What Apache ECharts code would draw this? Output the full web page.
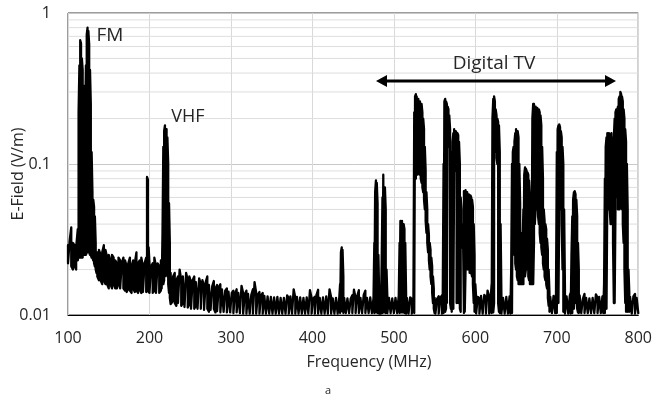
<!DOCTYPE html>
<html>
<head>
<meta charset="utf-8">
<script src="https://cdn.jsdelivr.net/npm/echarts@6/dist/echarts.min.js"></script>
<style>
html,body{margin:0;padding:0;background:#fff;}
#chart{width:655px;height:398px;}
</style>
</head>
<body>
<div id="chart"></div>
<script>
// x-axis tick labels (MHz) and y-axis tick labels (V/m)
const xTicks = [100, 200, 300, 400, 500, 600, 700, 800];
const yTicks = [0.01, 0.1, 1];
const minorGridValues = [0.02,0.03,0.04,0.05,0.06,0.07,0.08,0.09,0.2,0.3,0.4,0.5,0.6,0.7,0.8,0.9];

// Each row: [frequency MHz, max E-field over sweeps, min E-field over sweeps] (V/m)
const fmBand = [
[100,.029,.022],[102,.031,.022],[104,.038,.021],[106,.030,.020],[108,.029,.021],[110,.028,.020],[112,.037,.023],
[113,.22,.025],[114,.45,.025],[115,.66,.024],[116,.63,.024],[117,.50,.024],[118,.42,.024],[119,.33,.024],
[120,.22,.025],[121,.20,.025],[122,.45,.025],[123,.72,.026],[124,.80,.026],[125,.76,.026],[126,.62,.026],
[127,.42,.025],[128,.25,.025],[129,.12,.024],[130,.065,.024],[131,.058,.023],[132,.052,.022],[133,.045,.021],
[134,.030,.020],[135,.024,.019]
];
const floorAfterFM = [
[136,.026,.018],[138,.027,.017],[140,.025,.017],[142,.026,.016],[144,.029,.017],[146,.027,.016],[148,.024,.016],
[150,.025,.015],[152,.023,.016],[154,.025,.015],[156,.024,.016],[158,.023,.015],[160,.022,.015],[162,.024,.016],
[164,.023,.015],[166,.022,.0148],[168,.024,.015],[170,.023,.0145],[172,.021,.0142],[174,.022,.015],[176,.024,.0145],
[178,.021,.014],[180,.023,.015],[182,.022,.0142],[184,.026,.0145],[186,.022,.014],[188,.023,.0148],[190,.024,.014],
[192,.021,.0142],[194,.022,.014],[196,.024,.0142],[197,.082,.015],[198,.079,.015],[199,.028,.0142],[200,.022,.014],
[202,.021,.0142],[204,.022,.014],[206,.024,.0145],[208,.021,.014],[210,.022,.0142],[212,.021,.014],[214,.023,.0145]
];
const vhfBand = [
[215,.022,.015],[216,.035,.015],[217,.13,.016],[218,.165,.017],[219,.18,.018],[220,.155,.02],[221,.17,.02],
[222,.15,.018],[223,.10,.016],[224,.055,.014],[225,.03,.013],[226,.019,.0118]
];
const floorMid = [
[227,.019,.012],[229,.018,.0125],[231,.019,.012],[233,.017,.0115],[235,.018,.012],[237,.020,.0118],[239,.017,.0115],
[241,.018,.012],[243,.0175,.0113],[245,.019,.0115],[247,.017,.0112],[249,.018,.0118],[251,.0165,.011],[253,.017,.0112],
[255,.018,.011],[257,.0165,.0115],[259,.017,.011],[261,.0175,.0108],[263,.016,.011],[265,.017,.0112],[267,.0155,.0108],
[269,.0165,.0106],[271,.018,.011],[273,.0158,.0105],[275,.016,.0108],[277,.0155,.0105],[279,.0168,.011],[281,.015,.0104],
[283,.0158,.0106],[285,.0152,.0105],[287,.016,.0104],[289,.0148,.0103],[291,.0152,.0105],[293,.0145,.0103],[295,.015,.0104],
[297,.0143,.0102],[299,.0147,.0104],[301,.014,.0102],[303,.0145,.0103],[305,.0138,.0102],[307,.0148,.0104],[309,.014,.0102],
[311,.0143,.0103],[313,.0156,.0104],[315,.014,.0102],[317,.0137,.0103],[319,.0145,.0102],[321,.0138,.0104],[323,.0142,.0102],
[325,.0136,.0103],[327,.0148,.0102],[329,.0165,.0104],[331,.014,.0102],[333,.0136,.0103],[335,.0142,.0102],[337,.0135,.0104],
[339,.014,.0102],[341,.0134,.0103],[343,.0138,.0102],[345,.0133,.0103],[347,.0137,.0102],[349,.0132,.0104],[351,.0136,.0102],
[353,.0131,.0103],[355,.0135,.0102],[357,.0132,.0103],[359,.0134,.0102],[361,.013,.0103],[363,.0133,.0102],[365,.013,.0103],
[367,.0132,.0102],[369,.0135,.0103],[371,.0129,.0102],[373,.0133,.0103],[375,.0131,.0102],[377,.0148,.0104],[379,.013,.0102],
[381,.0132,.0103],[383,.0129,.0102],[385,.0131,.0103],[387,.0128,.0102],[389,.013,.0103],[391,.0127,.0102],[393,.0131,.0103],
[395,.0135,.0102],[397,.0146,.0103],[399,.013,.0102],[401,.0128,.0103],[403,.0132,.0102],[405,.0136,.0103],[407,.0147,.0102],
[409,.013,.0103],[411,.0128,.0102],[413,.0131,.0103],[415,.0129,.0102],[417,.0133,.0103],[419,.013,.0102],[421,.0148,.0103],
[423,.0131,.0102],[425,.0129,.0103],[427,.0132,.0102],[429,.013,.0103],[431,.0128,.0102],[433,.0131,.0103],[434,.016,.0103],
[435,.026,.0105],[436,.028,.0106],[437,.027,.0105],[438,.018,.0103],[439,.013,.0102],[441,.0132,.0103],[443,.0129,.0102],
[445,.0131,.0103],[447,.0128,.0102],[449,.0135,.0103],[451,.0147,.0102],[453,.013,.0103],[455,.0133,.0102],[457,.0146,.0103],
[459,.013,.0102],[461,.0132,.0103],[463,.0136,.0102],[465,.0145,.0103],[467,.013,.0102],[469,.0132,.0103],[471,.0131,.0102],
[473,.0134,.0103],[475,.013,.0102]
];
const tvChannelsLow = [
[476,.03,.0103],[477,.065,.0103],[478,.078,.0104],[479,.075,.0104],[480,.055,.0103],[481,.025,.0103],[482,.0132,.0102],
[483,.013,.0103],[484,.0135,.0102],[485,.022,.0103],[486,.06,.0103],[487,.085,.0104],[488,.083,.0104],[489,.07,.0103],
[490,.05,.0103],[491,.02,.0102],[492,.0131,.0103],[494,.013,.0102],[496,.0133,.0103],[498,.0129,.0102],[500,.0131,.0103],
[502,.013,.0102],[504,.0132,.0103],[506,.0135,.0102],[507,.03,.0103],[508,.042,.0103],[509,.043,.0104],[510,.042,.0104],
[511,.041,.0104],[512,.040,.0104],[513,.037,.0103],[514,.030,.0103],[515,.014,.0102],[516,.013,.0103],[518,.0128,.0102],
[520,.0131,.0103],[522,.0127,.0102],[524,.0132,.0103]
];
const tvChannel530 = [
[525,.22,.0103],[526,.28,.0103],[527,.29,.08],[528,.28,.08],[529,.28,.085],[530,.27,.09],[531,.27,.09],[532,.26,.085],
[533,.26,.08],[534,.25,.075],[535,.22,.07],[536,.20,.065],[537,.17,.058],[538,.13,.05],[539,.09,.042],[540,.065,.035],
[541,.05,.03],[542,.04,.026],[543,.034,.023],[544,.03,.02],[545,.027,.018],[546,.024,.016],[547,.021,.014],[548,.018,.012],
[549,.015,.011],[550,.013,.0103],
[551,.0131,.0102],[553,.0128,.0103],[555,.0133,.0102],[557,.013,.0103],[559,.0135,.0102]
];
const tvChannels580 = [
[560,.0135,.0103],[561,.10,.0103],[562,.26,.0103],[563,.27,.0105],[564,.26,.011],[565,.25,.012],[566,.24,.15],[567,.23,.15],
[568,.21,.13],[569,.17,.012],[570,.12,.011],[571,.06,.0105],[572,.14,.0105],[573,.16,.011],[574,.17,.10],[575,.17,.10],
[576,.165,.09],[577,.16,.012],[578,.16,.012],[579,.155,.012],[580,.14,.012],[581,.10,.011],[582,.06,.0105],[583,.05,.03],
[584,.035,.028],[585,.04,.03],[586,.066,.0103],[587,.067,.0105],[588,.067,.02],[589,.066,.02],[590,.065,.02],[591,.064,.02],
[592,.063,.02],[593,.062,.019],[594,.062,.019],[595,.060,.019],[596,.058,.018],[597,.052,.016],[598,.040,.012],[599,.025,.0105],
[600,.016,.0103],
[601,.013,.0102],[603,.0132,.0103],[605,.0128,.0102],[607,.0134,.0103],[609,.013,.0102],[611,.0136,.0103],[613,.0131,.0102],
[615,.0145,.0103],[617,.0132,.0102],[619,.0134,.0103]
];
const tvChannels650 = [
[620,.016,.0103],[621,.20,.0103],[622,.27,.0104],[623,.28,.012],[624,.26,.12],[625,.23,.12],[626,.21,.11],[627,.20,.10],
[628,.19,.012],[629,.18,.0105],[630,.12,.0103],[631,.04,.0103],[632,.0135,.0102],
[634,.013,.0103],[636,.0128,.0102],[638,.0132,.0103],[640,.013,.0102],[642,.0133,.0103],
[643,.0135,.0102],[644,.02,.0103],[645,.10,.0103],[646,.12,.0104],[647,.13,.03],[648,.14,.025],[649,.16,.022],[650,.17,.02],
[651,.17,.018],[652,.165,.017],[653,.15,.016],[654,.10,.016],[655,.055,.016],[656,.035,.016],[657,.026,.016],
[658,.03,.016],[659,.05,.016],[660,.085,.016],[661,.095,.018],[662,.093,.02],[663,.09,.02],[664,.088,.02],[665,.085,.018],
[666,.078,.017],[667,.06,.016],[668,.04,.016],[669,.06,.016],
[670,.20,.016],[671,.25,.016],[672,.25,.03],[673,.245,.04],[674,.24,.05],[675,.24,.05],[676,.235,.05],[677,.23,.045],
[678,.23,.04],[679,.22,.035],[680,.21,.03],[681,.18,.028],[682,.13,.025],[683,.08,.022],[684,.05,.02],[685,.042,.018],
[686,.04,.017],[687,.037,.016],[688,.032,.015],[689,.027,.013],[690,.02,.0115],[691,.014,.0105],
[692,.0132,.0102],[694,.013,.0103],[696,.0134,.0102],[698,.0131,.0103]
];
const tvChannels720 = [
[699,.014,.0102],[700,.12,.0103],[701,.17,.0104],[702,.18,.012],[703,.183,.05],[704,.175,.05],[705,.165,.05],[706,.15,.04],
[707,.13,.02],[708,.10,.0105],[709,.05,.0103],[710,.015,.0102],
[712,.0133,.0103],[714,.013,.0102],[716,.0135,.0103],
[717,.014,.0102],[718,.025,.0103],[719,.045,.0103],[720,.058,.0104],[721,.065,.011],[722,.066,.013],[723,.063,.013],
[724,.058,.012],[725,.045,.011],[726,.03,.0104],[727,.02,.0103],[728,.0135,.0102],
[730,.0131,.0103],[732,.0128,.0102],[734,.0138,.0103],[736,.013,.0102],[738,.0133,.0103],[740,.0129,.0102],[742,.0132,.0103],
[744,.013,.0102],[746,.0134,.0103],[748,.0137,.0102],[750,.013,.0103],[752,.0132,.0102],[754,.0129,.0103],[756,.0133,.0102]
];
const tvChannels770 = [
[757,.013,.0103],[758,.016,.0103],[759,.08,.0103],[760,.13,.0103],[761,.15,.011],[762,.16,.06],[763,.15,.06],[764,.16,.05],
[765,.14,.05],[766,.15,.04],[767,.16,.04],[768,.15,.04],[769,.13,.03],[770,.15,.012],[771,.20,.012],[772,.22,.05],
[773,.23,.06],[774,.22,.06],[775,.24,.05],[776,.27,.05],[777,.28,.05],[778,.30,.06],[779,.29,.06],[780,.28,.05],
[781,.26,.04],[782,.23,.03],[783,.20,.02],[784,.17,.012],[785,.14,.0105],[786,.10,.0105],[787,.05,.0105],[788,.02,.0105],
[789,.014,.0105],
[790,.0132,.0103],[792,.013,.0102],[794,.0133,.0103],[796,.0138,.0102],[798,.013,.0103],[800,.0132,.0103]
];

const rows = [].concat(fmBand, floorAfterFM, vhfBand, floorMid, tvChannelsLow, tvChannel530,
  tvChannels580, tvChannels650, tvChannels720, tvChannels770);
// trace zig-zags between max and min of the sweeps at each frequency
const trace = [];
rows.forEach((r, i) => {
  if (i % 2 === 0) { trace.push([r[0], r[1]], [r[0], r[2]]); }
  else { trace.push([r[0], r[2]], [r[0], r[1]]); }
});

// minor horizontal gridlines, drawn through the axes, broken with '-' between values
const minorGrid = [];
minorGridValues.forEach(v => { minorGrid.push([xTicks[0], v], [xTicks[xTicks.length - 1], v], '-'); });

const textColor = '#262626';
const FONT = '"Open Sans", sans-serif';
const chart = echarts.init(document.getElementById('chart'), null, {renderer: 'canvas'});
const gl = 68, gt = 13, gw = 573, gh = 302;
function label(text, x, y, size, rot) {
  return {type: 'text', x: x, y: y, z: 50, zlevel: 1, rotation: rot || 0, silent: true,
    style: {text: text, fill: textColor, fontSize: size, fontFamily: FONT, align: 'center', verticalAlign: 'middle'}};
}
chart.setOption({
  animation: false,
  backgroundColor: '#fff',
  grid: {left: gl, top: gt, width: gw, height: gh, show: true, borderColor: '#3a3a3a', borderWidth: 1, backgroundColor: 'rgba(0,0,0,0)'},
  xAxis: {
    type: 'value', min: xTicks[0], max: xTicks[xTicks.length - 1], interval: 100,
    axisLine: {show: true, lineStyle: {color: '#000', width: 1}},
    axisTick: {show: false},
    axisLabel: {fontSize: 16, color: textColor, fontFamily: FONT, margin: 15},
    splitLine: {show: true, lineStyle: {color: '#d9d9d9', width: 1}}
  },
  yAxis: {
    type: 'log', logBase: 10, min: yTicks[0], max: yTicks[yTicks.length - 1],
    axisLine: {show: false},
    axisTick: {show: false},
    axisLabel: {fontSize: 16, color: textColor, fontFamily: FONT, margin: 17,
      formatter: v => String(+Number(v).toPrecision(3))},
    splitLine: {show: true, lineStyle: {color: '#c8c8c8', width: 1}}
  },
  series: [
    {
      type: 'line', data: minorGrid, z: 1, silent: true, connectNulls: false,
      symbol: 'none', showSymbol: false,
      lineStyle: {color: '#dedede', width: 1}
    },
    {
      type: 'line', data: trace, z: 3, silent: true,
      symbol: 'none', showSymbol: false, smooth: false, clip: true,
      lineStyle: {color: '#000', width: 2.3, join: 'round', cap: 'round'}
    }
  ],
  graphic: [
    label('E-Field (V/m)', 18, 174, 16, Math.PI / 2),
    label('Frequency (MHz)', 369, 362, 16),
    label('a', 328, 391, 11),
    label('FM', 110, 36, 19),
    label('VHF', 188, 117, 18),
    label('Digital TV', 494, 64, 19),
    {type: 'line', zlevel: 1, shape: {x1: 384, y1: 81, x2: 608, y2: 81}, style: {stroke: '#000', lineWidth: 3}},
    {type: 'polygon', zlevel: 1, shape: {points: [[376, 81], [387, 75], [387, 87]]}, style: {fill: '#000'}},
    {type: 'polygon', zlevel: 1, shape: {points: [[616, 81], [605, 75], [605, 87]]}, style: {fill: '#000'}}
  ]
});
</script>
</body>
</html>
